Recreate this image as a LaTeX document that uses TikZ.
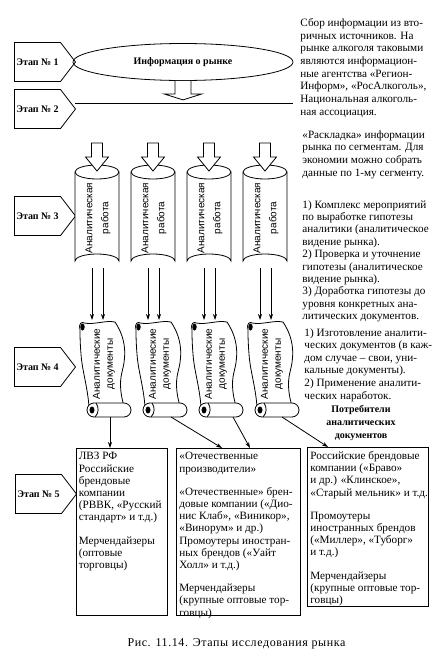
\documentclass[tikz,border=0pt]{standalone}
\usepackage{fontspec}
\setmainfont{Liberation Serif}
\newfontfamily\sansf{Liberation Sans}
\usetikzlibrary{shapes.geometric,shapes.symbols,arrows.meta,calc}
\begin{document}
\begin{tikzpicture}[x=1pt,y=-1pt, line width=0.8pt,
 stagebox/.style={signal, signal to=east, signal pointer angle=105, draw, minimum width=61, minimum height=39, inner sep=0, font=\bfseries\fontsize{10}{11}\selectfont},
 arr/.style={-{Stealth[length=6pt,width=4pt]}},
 cyltext/.style={font=\sansf\fontsize{10}{16}\selectfont, align=center, inner sep=0},
 doctext/.style={font=\sansf\fontsize{10}{13}\selectfont, align=center, inner sep=0},
 note/.style={font=\fontsize{11.2}{12.7}\selectfont, align=left, inner sep=0, anchor=north west},
 box/.style={draw, inner sep=0, anchor=north west},
 boxtext/.style={font=\fontsize{11.2}{12.2}\selectfont, align=left, inner sep=0, anchor=north west}]
\useasboundingbox[fill=white] (0,0) rectangle (435,656);

% stages
\node[stagebox] (s1) at (37.5,62) {Этап № 1};
\node[stagebox] (s2) at (37.5,109) {Этап № 2};
\node[stagebox] (s3) at (37.5,216) {Этап № 3};
\node[stagebox] (s4) at (37.5,367) {Этап № 4};
\node[stagebox] (s5) at (38.5,494) {Этап № 5};

% information ellipse
\node[draw, ellipse, minimum width=220, minimum height=37, inner sep=0, font=\bfseries\fontsize{10}{11}\selectfont] (info) at (183,62) {Информация о рынке};
\draw[fill=white] ([xshift=-8pt]info.south) -- ++(0,13) -- ++(-11,0) -- ($(info.south)+(0,19)$) -- ($(info.south)+(19,13)$) -- ++(-11,0) -- ([xshift=8pt]info.south);
\coordinate (h1) at (75,103);
\coordinate (h2) at (293,103);
\draw (h1) -- (h2);

% cylinders
\foreach \i/\cx in {1/97,2/153,3/209,4/265} {
 \draw[fill=white] (\cx-22,172) -- (\cx-22,261) arc[start angle=180, end angle=360, x radius=22, y radius=7] -- (\cx+22,172);
 \draw (\cx,172) ellipse [x radius=22, y radius=7];
 \node[cyltext, rotate=90] (c\i) at (\cx+1,218) {Аналитическая\\работа};
 \draw[fill=white] (\cx-5.5,143) -- (\cx-5.5,157) -- (\cx-11.5,157) -- (\cx,171) -- (\cx+11.5,157) -- (\cx+5.5,157) -- (\cx+5.5,143) -- cycle;
 \coordinate (cb\i) at (\cx,268);
 \coordinate (st\i) at (\cx,320);
 \draw[arr] ([xshift=-5pt]cb\i) -- ([xshift=-5pt]st\i);
 \draw[arr] ([xshift=6pt]cb\i) -- ([xshift=6pt]st\i);
}

% scrolls
\foreach \i/\xo in {1/79,2/135,3/191,4/247} {
 \def\yo{322}
 \draw[fill=white] (\xo+5,\yo+1) .. controls (\xo+16,\yo+3) and (\xo+26,\yo-2) .. (\xo+36,\yo)
   .. controls (\xo+48,\yo+18) and (\xo+47,\yo+35) .. (\xo+43,\yo+50)
   .. controls (\xo+40,\yo+62) and (\xo+42,\yo+74) .. (\xo+45,\yo+84)
   -- (\xo+10,\yo+84)
   .. controls (\xo+8,\yo+62) and (\xo+3,\yo+48) .. (\xo+2,\yo+32)
   .. controls (\xo+1,\yo+20) and (\xo+1,\yo+12) .. (\xo+1,\yo+8)
   .. controls (\xo-1,\yo+2) and (\xo+3,\yo-1) .. (\xo+5,\yo+1) -- cycle;
 \fill (\xo+3.5,\yo+5) ellipse [x radius=2.2, y radius=3.5];
 \draw[fill=white, rounded corners=7] (\xo+8,\yo+81) rectangle (\xo+52,\yo+95);
 \fill (\xo+13,\yo+88) ellipse [x radius=2.5, y radius=3.5];
 \draw (\xo+17,\yo+81) .. controls (\xo+20,\yo+85) and (\xo+20,\yo+91) .. (\xo+16,\yo+95);
 \node[doctext, rotate=90] (d\i) at (\xo+25,\yo+42) {Аналитические\\документы};
}

% boxes
\node[box, minimum width=91, minimum height=167] (b1) at (76,448) {};
\node[box, minimum width=124, minimum height=167] (b2) at (176,448) {};
\node[box, minimum width=121, minimum height=159] (b3) at (307,447) {};

\node[boxtext] (t1) at ($(b1.north west)+(2.5,4)$) {ЛВЗ РФ\\Российские\\брендовые\\компании\\(РВВК, «Русский\\стандарт» и т.д.)\\[11pt]Мерчендайзеры\\(оптовые\\торговцы)};
\node[boxtext] (t2) at ($(b2.north west)+(3,4)$) {«Отечественные\\производители»\\[11pt]«Отечественные» брен-\\довые компании («Дио-\\нис Клаб», «Виникор»,\\«Винорум» и др.)\\Промоутеры иностран-\\ных брендов («Уайт\\Холл» и т.д.)\\[11pt]Мерчендайзеры\\(крупные оптовые тор-\\говцы)};
\node[boxtext] (t3) at ($(b3.north west)+(3,4)$) {Российские брендовые\\компании («Браво»\\и др.) «Клинское»,\\«Старый мельник» и т.д.\\[11pt]Промоутеры\\иностранных брендов\\(«Миллер», «Туборг»\\и т.д.)\\[11pt]Мерчендайзеры\\(крупные оптовые тор-\\говцы)};

% arrows to boxes
\coordinate (e1) at (110,417);
\coordinate (e2) at (171,417);
\coordinate (e3) at (233,417);
\coordinate (e4) at (282,417);
\draw[arr] (e1) -- (e1 |- b1.north);
\draw[arr] (e2) -- ($(b2.north west)+(46,0)$);
\draw[arr] (e3) -- ($(b2.north west)+(74,0)$);
\draw[arr] (e4) -- ($(b3.north west)+(21,0)$);

% notes
\node[note] (n1) at (300,18) {Сбор информации из вто-\\ричных источников. На\\рынке алкоголя таковыми\\являются информацион-\\ные агентства «Регион-\\Информ», «РосАлкоголь»,\\Национальная алкоголь-\\ная ассоциация.};
\node[note] (n2) at (302,130) {«Раскладка» информации\\рынка по сегментам. Для\\экономии можно собрать\\данные по 1-му сегменту.};
\node[note, font=\fontsize{11.2}{12.4}\selectfont] (n3) at (302,200) {1) Комплекс мероприятий\\по выработке гипотезы\\аналитики (аналитическое\\видение рынка).\\2) Проверка и уточнение\\гипотезы (аналитическое\\видение рынка).\\3) Доработка гипотезы до\\уровня конкретных ана-\\литических документов.};
\node[note, font=\fontsize{11.2}{12.6}\selectfont] (n4) at (304,328) {1) Изготовление аналити-\\ческих документов (в каж-\\дом случае – свои, уни-\\кальные документы).\\2) Применение аналити-\\ческих наработок.};
\node[font=\bfseries\fontsize{10}{13}\selectfont, align=center, anchor=north, inner sep=0] (cons) at (361,405) {Потребители\\аналитических\\документов};

\node[font=\fontsize{12}{13}\selectfont\addfontfeatures{LetterSpace=5}, anchor=base, inner sep=0] (cap) at (236.5,646) {Рис. 11.14. Этапы исследования рынка};
\end{tikzpicture}
\end{document}
